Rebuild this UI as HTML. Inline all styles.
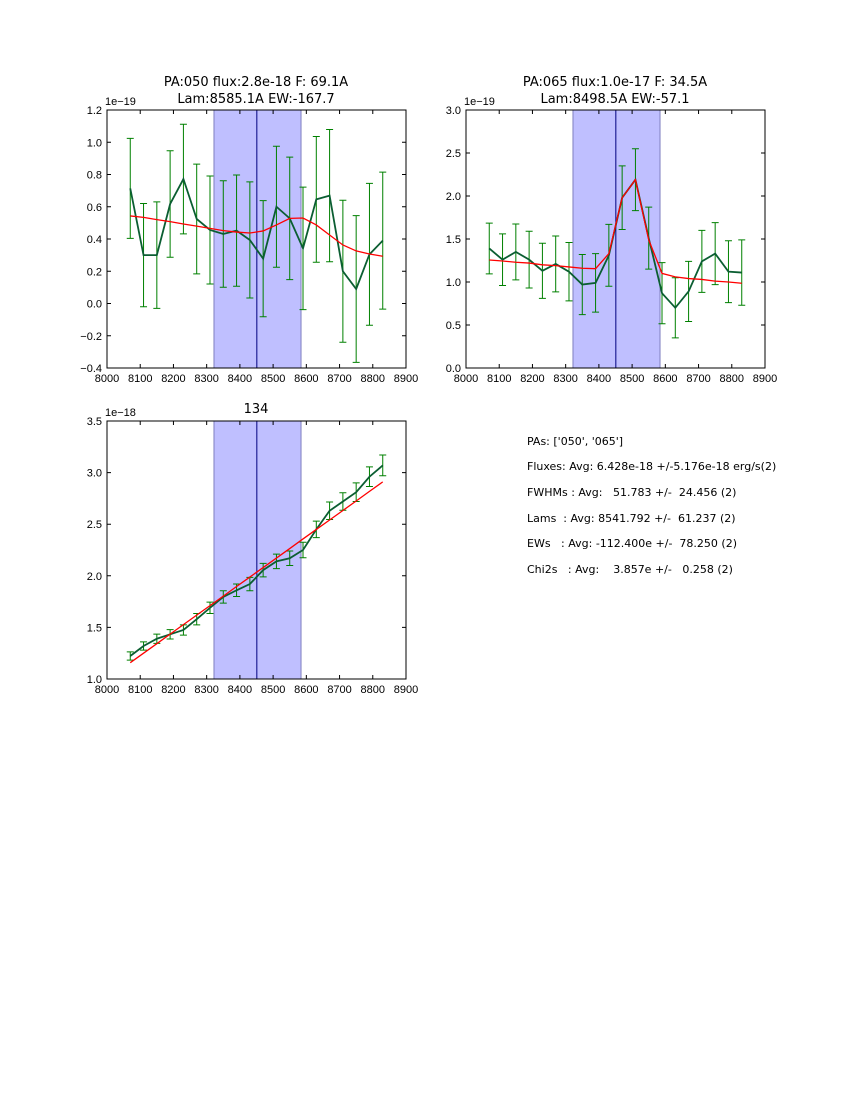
<!DOCTYPE html>
<html><head><meta charset="utf-8"><style>
html,body{margin:0;padding:0;background:#fff}
svg{display:block;font-family:"DejaVu Sans","Liberation Sans",sans-serif}
.tk{font-family:"Liberation Sans","DejaVu Sans",sans-serif}
</style></head><body>
<svg id="fig" width="850" height="1100" viewBox="0 0 850 1100" xmlns="http://www.w3.org/2000/svg">
<text x="256" y="86" font-size="13" text-anchor="middle">PA:050 flux:2.8e-18 F: 69.1A</text>
<text x="256" y="103" font-size="13" text-anchor="middle">Lam:8585.1A EW:-167.7</text>
<text x="615" y="86" font-size="13" text-anchor="middle">PA:065 flux:1.0e-17 F: 34.5A</text>
<text x="615" y="103" font-size="13" text-anchor="middle">Lam:8498.5A EW:-57.1</text>
<text x="256" y="413" font-size="13" text-anchor="middle">134</text>
<g font-size="11">
<text x="527" y="445" xml:space="preserve">PAs: ['050', '065']</text>
<text x="527" y="470" xml:space="preserve">Fluxes: Avg: 6.428e-18 +/-5.176e-18 erg/s(2)</text>
<text x="527" y="496" xml:space="preserve">FWHMs : Avg:   51.783 +/-  24.456 (2)</text>
<text x="527" y="522" xml:space="preserve">Lams  : Avg: 8541.792 +/-  61.237 (2)</text>
<text x="527" y="547" xml:space="preserve">EWs   : Avg: -112.400e +/-  78.250 (2)</text>
<text x="527" y="573" xml:space="preserve">Chi2s   : Avg:    3.857e +/-   0.258 (2)</text>
</g>
</svg>
<script>
const wavelengths = [8070,8110,8150,8190,8230,8270,8310,8350,8390,8430,8470,8510,8550,8590,8630,8670,8710,8750,8790,8830];
const xTicks = [8000,8100,8200,8300,8400,8500,8600,8700,8800,8900];
const bandRange = [8322,8584];
const lineCenter = [8451];
const p1Flux = [0.714,0.30,0.30,0.617,0.772,0.524,0.456,0.431,0.452,0.394,0.278,0.60,0.528,0.342,0.646,0.669,0.20,0.09,0.305,0.39];
const p1Err = [0.31,0.32,0.33,0.33,0.34,0.34,0.335,0.33,0.345,0.36,0.36,0.375,0.38,0.38,0.39,0.41,0.44,0.455,0.44,0.425];
const p1Model = [0.543,0.534,0.52,0.508,0.493,0.48,0.466,0.452,0.443,0.437,0.45,0.487,0.528,0.53,0.487,0.425,0.363,0.326,0.307,0.293];
const p1YTicks = [-0.4,-0.2,0.0,0.2,0.4,0.6,0.8,1.0,1.2];
const p2Flux = [1.39,1.26,1.35,1.26,1.13,1.21,1.12,0.97,0.99,1.31,1.98,2.19,1.51,0.87,0.70,0.89,1.24,1.33,1.12,1.11];
const p2Err = [0.295,0.30,0.325,0.33,0.32,0.325,0.34,0.35,0.34,0.36,0.37,0.36,0.36,0.355,0.35,0.35,0.36,0.36,0.36,0.38];
const p2Model = [1.256,1.244,1.23,1.22,1.20,1.19,1.175,1.16,1.155,1.33,1.98,2.19,1.49,1.10,1.06,1.04,1.03,1.01,1.0,0.985];
const p2YTicks = [0.0,0.5,1.0,1.5,2.0,2.5,3.0];
const p3Flux = [1.223,1.32,1.39,1.433,1.475,1.58,1.69,1.795,1.86,1.92,2.055,2.14,2.17,2.25,2.45,2.63,2.72,2.81,2.96,3.07];
const p3Err = [0.04,0.04,0.045,0.045,0.05,0.055,0.055,0.06,0.06,0.065,0.065,0.07,0.07,0.075,0.08,0.085,0.085,0.09,0.095,0.1];
const p3Model = [1.158,1.25,1.342,1.435,1.527,1.619,1.711,1.803,1.896,1.988,2.08,2.172,2.264,2.357,2.449,2.541,2.633,2.725,2.818,2.91];
const p3YTicks = [1.0,1.5,2.0,2.5,3.0,3.5];

const NS="http://www.w3.org/2000/svg";
const fig=document.getElementById('fig');
function mk(tag,attrs,parent){const e=document.createElementNS(NS,tag);for(const k in attrs)e.setAttribute(k,attrs[k]);parent.appendChild(e);return e;}

function panel(id,L,T,W,H,ymin,ymax,yTicks,decimals,offset,flux,err,model){
  const g=mk('g',{},fig);
  
  
  const xs=v=>L+(v-8000)/900*W;
  const ys=v=>T+(ymax-v)/(ymax-ymin)*H;
  const band=mk('rect',{x:xs(bandRange[0]),y:T,width:xs(bandRange[1])-xs(bandRange[0]),height:H,fill:'#bfbfff',stroke:'#7f7fbf','stroke-width':1},g);
  
  
  const vl=mk('line',{x1:xs(lineCenter[0]),x2:xs(lineCenter[0]),y1:T,y2:T+H,stroke:'#000080','stroke-width':1},g);
  
  
  for(let i=0;i<wavelengths.length;i++){
    const x=xs(wavelengths[i]),y1=ys(flux[i]+err[i]),y2=ys(flux[i]-err[i]);
    const eb=mk('path',{d:`M${x},${y1}V${y2}M${x-3.5},${y1}H${x+3.5}M${x-3.5},${y2}H${x+3.5}`,stroke:'#008000','stroke-width':1,fill:'none'},g);
    
    
  }
  const pts=flux.map((v,i)=>xs(wavelengths[i])+','+ys(v)).join(' ');
  const dl=mk('polyline',{points:pts,fill:'none',stroke:'#0b5e32','stroke-width':1.8},g);
  
  
  const mp=model.map((v,i)=>xs(wavelengths[i])+','+ys(v)).join(' ');
  const ml=mk('polyline',{points:mp,fill:'none',stroke:'#ff0000','stroke-width':1.3},g);
  
  
  const fr=mk('rect',{x:L,y:T,width:W,height:H,fill:'none',stroke:'#000','stroke-width':1},g);
  
  
  xTicks.forEach(v=>{
    const x=xs(v);
    mk('path',{d:`M${x},${T+H}v-4M${x},${T}v4`,stroke:'#000','stroke-width':1},g);
    const t=mk('text',{x:x,y:T+H+14,'font-size':11,'text-anchor':'middle',class:'tk'},g);
    t.textContent=v;
    
    
  });
  yTicks.forEach(v=>{
    const y=ys(v);
    mk('path',{d:`M${L},${y}h4M${L+W},${y}h-4`,stroke:'#000','stroke-width':1},g);
    const t=mk('text',{x:L-5,y:y+4,'font-size':11,'text-anchor':'end',class:'tk'},g);
    t.textContent=v.toFixed(decimals).replace('-','\u2212');
    
    
  });
  const o=mk('text',{x:L-2,y:T-5,'font-size':11,class:'tk'},g);
  o.textContent=offset;
  
  
}
panel('panel-pa050',107,110,299,258,-0.4,1.2,p1YTicks,1,'1e\u221219',p1Flux,p1Err,p1Model);
panel('panel-pa065',466,110,299,258,0,3.0,p2YTicks,1,'1e\u221219',p2Flux,p2Err,p2Model);
panel('panel-134',107,421,299,258,1.0,3.5,p3YTicks,1,'1e\u221218',p3Flux,p3Err,p3Model);
</script>
</body></html>
